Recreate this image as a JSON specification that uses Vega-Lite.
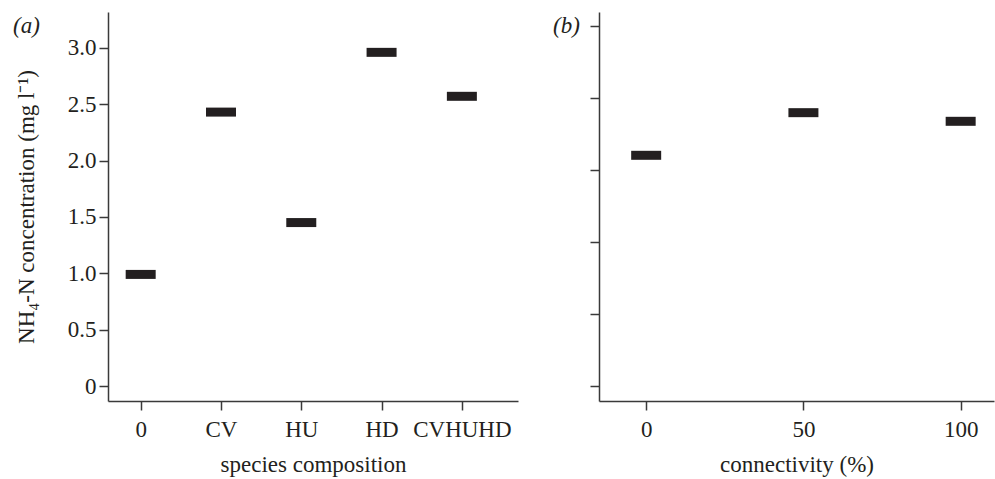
{
  "$schema": "https://vega.github.io/schema/vega-lite/v6.json",
  "autosize": {"type": "pad"},
  "padding": {"left": 13, "top": 12, "right": 2, "bottom": 2},
  "background": "white",
  "config": {
    "font": "Liberation Serif",
    "view": {"stroke": null},
    "axis": {
      "labelFont": "Liberation Serif", "titleFont": "Liberation Serif",
      "labelFontSize": 23, "titleFontSize": 23, "titleFontWeight": "normal",
      "labelColor": "#231f20", "titleColor": "#231f20",
      "domainColor": "#3a3a3a", "tickColor": "#3a3a3a",
      "domainWidth": 1.5, "tickWidth": 1.5, "tickSize": 9, "grid": false,
      "labelPadding": 3
    },
    "title": {"font": "Liberation Serif", "fontSize": 23, "fontWeight": "normal", "color": "#231f20"}
  },
  "datasets": {
    "species": [
      {"composition": "0", "nh4": 0.99},
      {"composition": "CV", "nh4": 2.43},
      {"composition": "HU", "nh4": 1.45},
      {"composition": "HD", "nh4": 2.96},
      {"composition": "CVHUHD", "nh4": 2.57}
    ],
    "conn": [
      {"connectivity": 0, "nh4": 1.604},
      {"connectivity": 50, "nh4": 1.9},
      {"connectivity": 100, "nh4": 1.84}
    ]
  },
  "spacing": 35,
  "hconcat": [
    {
      "width": 410, "height": 389,
      "title": {"text": "(a)", "anchor": "start", "frame": "group", "orient": "top", "dx": -95, "dy": 30, "fontStyle": "italic"},
      "data": {"name": "species"},
      "mark": {"type": "tick", "orient": "horizontal", "thickness": 9, "size": 30, "color": "#231f20", "opacity": 1},
      "encoding": {
        "x": {"field": "composition", "type": "nominal", "sort": ["0", "CV", "HU", "HD", "CVHUHD"],
              "scale": {"type": "point", "padding": 0.553, "align": 0.368},
              "axis": {"labelAngle": 0, "title": "species composition", "labelPadding": 8, "titlePadding": 12}},
        "y": {"field": "nh4", "type": "quantitative",
              "scale": {"domain": [-0.133, 3.318], "nice": false, "zero": false},
              "axis": {"values": [0, 0.5, 1, 1.5, 2, 2.5, 3], "labelExpr": "datum.value == 0 ? '0' : format(datum.value, '.1f')",
                       "title": "NH₄-N concentration (mg l⁻¹)", "titlePadding": 29}}
      }
    },
    {
      "width": 395, "height": 389,
      "title": {"text": "(b)", "anchor": "start", "frame": "group", "orient": "top", "dx": -46, "dy": 30, "fontStyle": "italic"},
      "data": {"name": "conn"},
      "mark": {"type": "tick", "orient": "horizontal", "thickness": 9, "size": 30, "color": "#231f20", "opacity": 1},
      "encoding": {
        "x": {"field": "connectivity", "type": "quantitative",
              "scale": {"domain": [-15, 110.6], "nice": false, "zero": false},
              "axis": {"values": [0, 50, 100], "title": "connectivity (%)", "labelPadding": 8, "titlePadding": 12}},
        "y": {"field": "nh4", "type": "quantitative",
              "scale": {"domain": [-0.102, 2.599], "nice": false, "zero": false},
              "axis": {"values": [0, 0.5, 1, 1.5, 2, 2.5], "labels": false, "title": null}}
      }
    }
  ]
}
